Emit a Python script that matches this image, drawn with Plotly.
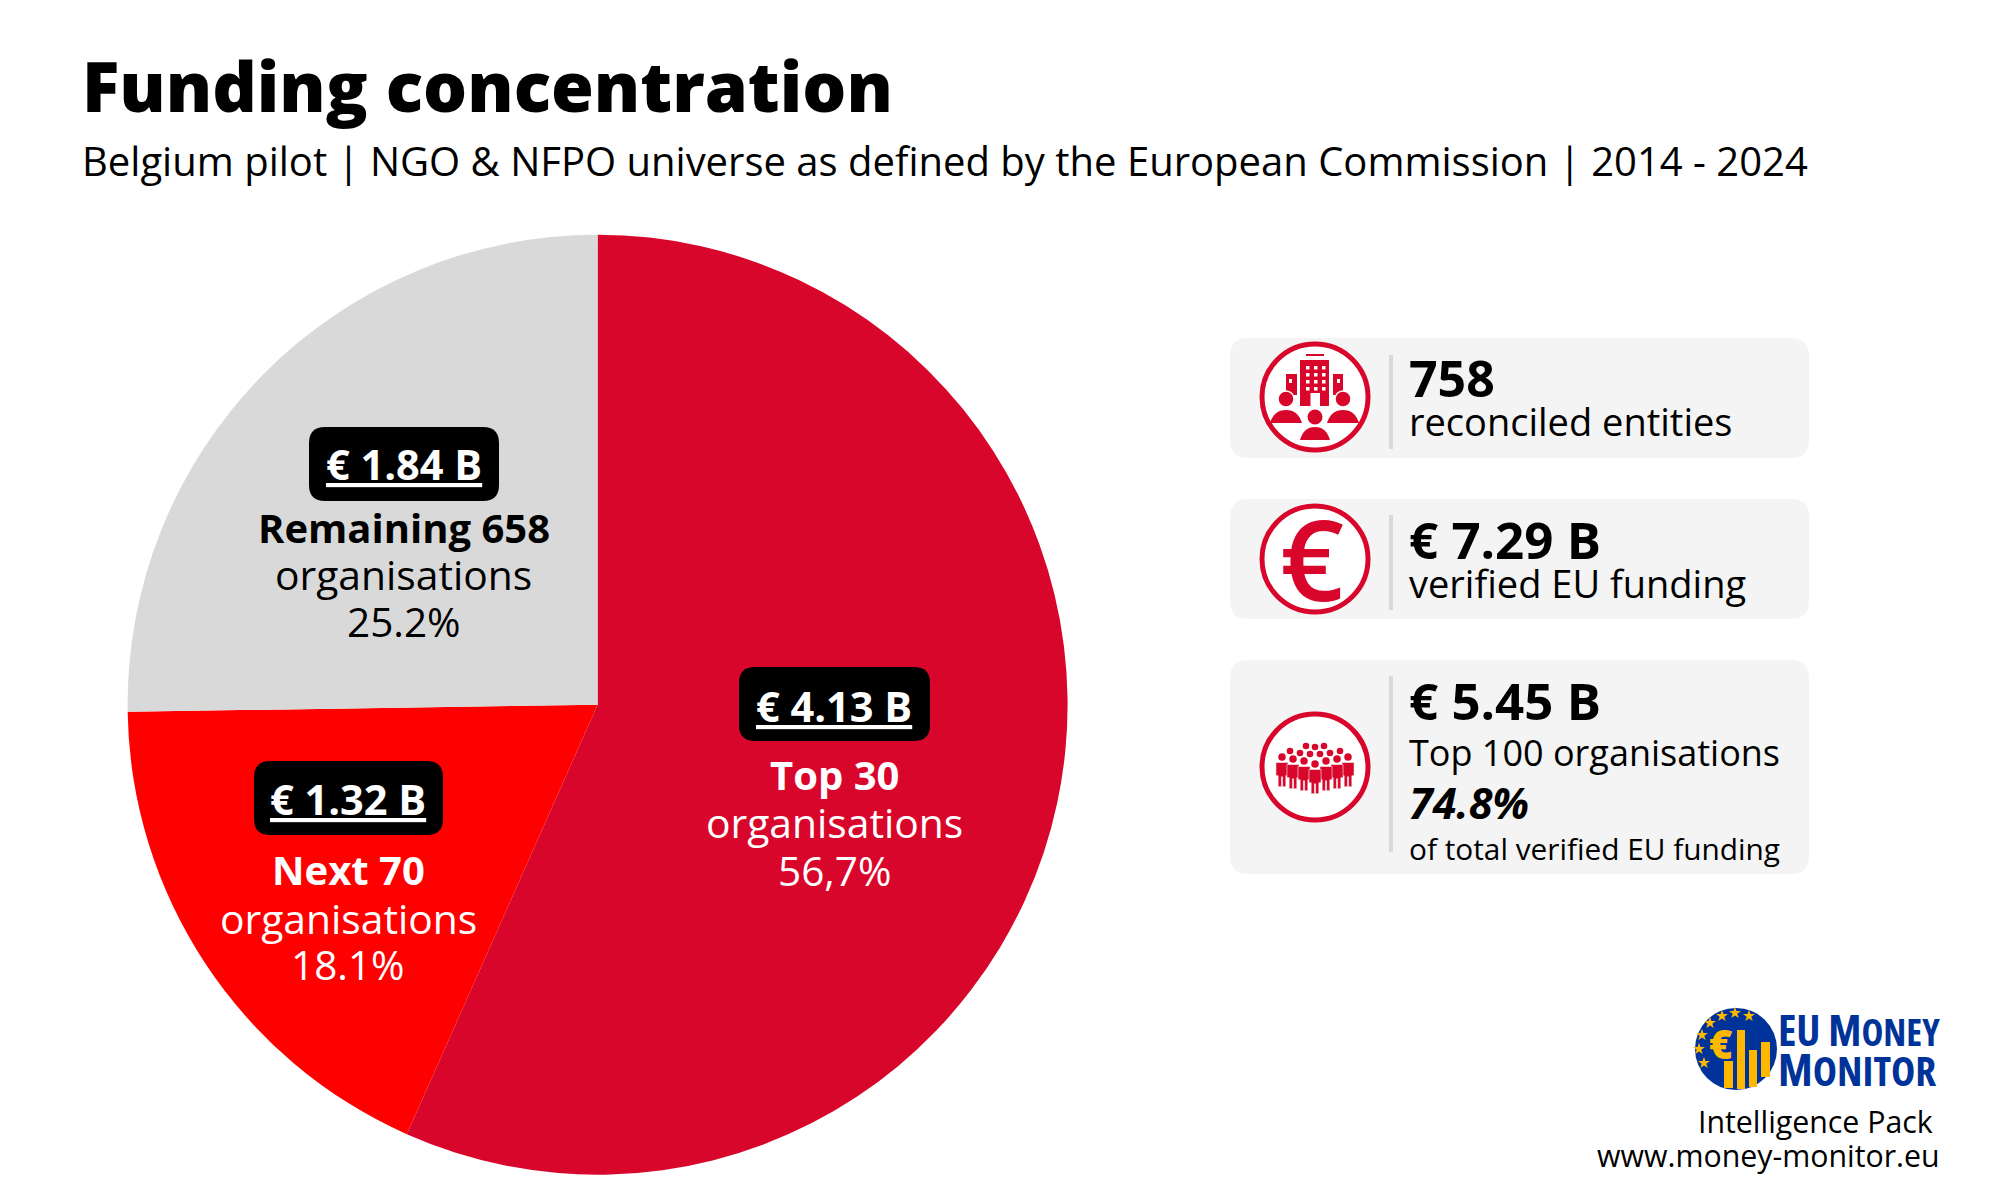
import plotly.graph_objects as go

# slices
groups = ["Top 30", "Next 70", "Remaining 658"]
funding = [4.13, 1.32, 1.84]
funding_labels = ["€ 1.84 B", "€ 1.32 B", "€ 4.13 B"]
share_labels = ["25.2%", "18.1%", "56,7%"]
group_labels = ["Remaining 658", "Next 70", "Top 30"]

title = "Funding concentration"
subtitle = "Belgium pilot | NGO & NFPO universe as defined by the European Commission | 2014 - 2024"

RED = "#D9062B"
BRIGHT = "#FF0000"
GREY = "#D9D9D9"
CARD = "#F4F4F4"
BLUE = "#003399"
GOLD = "#FFB800"
FONT = "Open Sans"

shapes = []
notes = []


def text(x, y, s, size, color="black", anchor="left", weight=400, family=FONT):
    notes.append(
        dict(
            x=x, y=y, xref="x", yref="y", text=s, showarrow=False,
            xanchor=anchor, yanchor="middle", align=anchor,
            font=dict(family=family, size=size, color=color, weight=weight),
        )
    )


def rounded(x0, y0, x1, y1, r):
    return (
        f"M{x0+r},{y0} L{x1-r},{y0} Q{x1},{y0} {x1},{y0+r} L{x1},{y1-r} Q{x1},{y1} {x1-r},{y1} "
        f"L{x0+r},{y1} Q{x0},{y1} {x0},{y1-r} L{x0},{y0+r} Q{x0},{y0} {x0+r},{y0} Z"
    )


def path(d, fill, line=None, width=0):
    shapes.append(
        dict(type="path", path=d, xref="x", yref="y", fillcolor=fill, line=dict(color=line or fill, width=width))
    )


def rect(x0, y0, x1, y1, fill):
    shapes.append(
        dict(type="rect", x0=x0, y0=y0, x1=x1, y1=y1, xref="x", yref="y", fillcolor=fill, line=dict(width=0))
    )


def circle(cx, cy, r, fill, line=None, width=0, layer="above"):
    shapes.append(
        dict(
            type="circle", x0=cx - r, y0=cy - r, x1=cx + r, y1=cy + r, xref="x", yref="y",
            fillcolor=fill, line=dict(color=line or fill, width=width), layer=layer,
        )
    )


def dome(cx, top, half, bottom, fill):
    # rounded shoulders of a seated figure
    path(f"M{cx-half},{bottom} Q{cx-half*0.75},{top} {cx},{top} Q{cx+half*0.75},{top} {cx+half},{bottom} Z", fill)


def person(cx, top, scale=1.0):
    # small standing figure with a gap between the legs
    s = scale
    circle(cx, top, 3.4 * s, RED)
    path(
        f"M{cx-5.5*s},{top+5*s} L{cx+5.5*s},{top+5*s} L{cx+5.5*s},{top+17*s} L{cx+3.5*s},{top+17*s} "
        f"L{cx+3.5*s},{top+27*s} L{cx+0.5*s},{top+27*s} L{cx+0.5*s},{top+18*s} L{cx-0.5*s},{top+18*s} "
        f"L{cx-0.5*s},{top+27*s} L{cx-3.5*s},{top+27*s} L{cx-3.5*s},{top+17*s} L{cx-5.5*s},{top+17*s} Z",
        RED, CARD, 0.6,
    )


# pie labels
pills = [(309, 427, 499, 501), (254, 761, 443, 835), (739, 667, 930, 741)]
label_x = [403.5, 348, 834]
label_y = [(464, 527, 574, 621), (798.5, 869, 917.5, 964), (705.5, 774, 822, 870)]
label_colors = ["black", "white", "white"]

for i in range(3):
    x0, y0, x1, y1 = pills[i]
    path(rounded(x0, y0, x1, y1, 16), "black")
    ys = label_y[i]
    text(label_x[i], ys[0], f"<u>{funding_labels[i]}</u>", 41.5, "white", "center", 700)
    text(label_x[i], ys[1], group_labels[i], 40, label_colors[i], "center", 700)
    text(label_x[i], ys[2], "organisations", 40.8, label_colors[i], "center")
    text(label_x[i], ys[3], share_labels[i], 40.5, label_colors[i], "center")

# header
text(80, 85, title, 69.3, "black", "left", 800)
text(80, 160.5, subtitle, 40)

# cards
cards = [(338, 458, 355, 449), (499, 619, 515, 610), (660, 874, 676, 852)]
for y0, y1, d0, d1 in cards:
    path(rounded(1230, y0, 1809, y1, 18), CARD)
    rect(1389, d0, 1393, d1, GREY)

ICON_X = 1315
icon_y = [397, 559, 767]
for cy in icon_y:
    circle(ICON_X, cy, 53, "white", RED, 5)

# building and people icon
cy = icon_y[0]
rect(ICON_X - 9, cy - 43, ICON_X + 9, cy - 41, RED)
rect(ICON_X - 15, cy - 37, ICON_X + 14, cy + 9, RED)
rect(ICON_X - 29, cy - 23, ICON_X - 18, cy - 2, RED)
rect(ICON_X + 18, cy - 23, ICON_X + 28, cy - 2, RED)
for col in (-9, -1, 7):
    for row in (-31, -24, -17, -10):
        rect(ICON_X + col, cy + row, ICON_X + col + 3.5, cy + row + 3.5, "white")
rect(ICON_X - 4.5, cy - 4, ICON_X + 5, cy + 9, "white")
rect(ICON_X - 26, cy - 18, ICON_X - 23, cy - 14, "white")
rect(ICON_X + 22, cy - 18, ICON_X + 25, cy - 14, "white")
circle(ICON_X - 29, cy + 2, 8, RED, "white", 1.5)
circle(ICON_X + 28, cy + 2, 8, RED, "white", 1.5)
circle(ICON_X, cy + 20, 7.5, RED)
dome(ICON_X - 29, cy + 13, 16, cy + 26, RED)
dome(ICON_X + 28, cy + 13, 16, cy + 26, RED)
dome(ICON_X, cy + 30, 15, cy + 43, RED)

# euro icon
text(ICON_X - 3, icon_y[1] - 2, "€", 112, RED, "center", 600)

# crowd icon
cy = icon_y[2]
for dx, dy in [(-9, -21), (0, -20), (9, -21)]:
    circle(ICON_X + dx, cy + dy, 3.3, RED)
for dx, dy in [(-25, -16), (-15, -14), (-5, -13), (5, -13), (15, -14), (25, -16)]:
    circle(ICON_X + dx, cy + dy, 3.3, RED)
for dx, dy in [(-33, -10), (33, -10), (-22, -8), (22, -8), (-11, -6), (11, -6), (0, -3)]:
    person(ICON_X + dx, cy + dy, 1.1)

# card text
TX = 1407
text(TX, 377.5, "758", 50, "black", "left", 700)
text(TX, 420.5, "reconciled entities", 38)
text(TX, 539, "€ 7.29 B", 51, "black", "left", 700)
text(TX, 583, "verified EU funding", 38)
text(TX, 700, "€ 5.45 B", 51, "black", "left", 700)
text(TX, 752, "Top 100 organisations", 36)
text(TX, 802, "<i>74.8%</i>", 43, "black", "left", 700)
text(TX, 848, "of total verified EU funding", 29.8)

# logo
LX, LY = 1736, 1049
circle(LX, LY, 41, BLUE, layer="below")
rect(1724, 1061, 1733, 1088, GOLD)
rect(1737, 1030, 1745, 1089, GOLD)
rect(1749, 1050, 1757, 1087, GOLD)
rect(1761, 1042, 1770, 1077, GOLD)
text(1721, 1043, "€", 40, GOLD, "center", 800)
text(
    1776, 1029,
    '<span style="font-stretch:75%">EU M<span style="font-size:37px">ONEY</span></span>',
    43, BLUE, "left", 700,
)
text(
    1776, 1068,
    '<span style="font-stretch:75%">M<span style="font-size:41px">ONITOR</span></span>',
    45, BLUE, "left", 700,
)
text(1935, 1121.5, "Intelligence Pack", 30.3, "black", "right")
text(1942, 1155.5, "www.money-monitor.eu", 30.3, "black", "right")

star_x = [1735, 1722, 1749, 1710, 1702, 1699, 1704]
star_y = [1013, 1016, 1016, 1023, 1035, 1049, 1063]

fig = go.Figure()
fig.add_trace(
    go.Pie(
        labels=groups,
        values=funding,
        sort=False,
        direction="clockwise",
        rotation=0,
        textinfo="none",
        hoverinfo="label+value",
        marker=dict(colors=[RED, BRIGHT, GREY], line=dict(width=0)),
        domain=dict(x=[127.6 / 2000, 1067.6 / 2000], y=[1 - 1174.7 / 1200, 1 - 234.7 / 1200]),
        showlegend=False,
    )
)
fig.add_trace(
    go.Scatter(
        x=star_x, y=star_y, mode="markers", hoverinfo="skip", showlegend=False,
        marker=dict(symbol="star", size=9, color=GOLD),
    )
)
fig.update_layout(
    width=2000,
    height=1200,
    margin=dict(l=0, r=0, t=0, b=0),
    paper_bgcolor="white",
    plot_bgcolor="rgba(0,0,0,0)",
    shapes=shapes,
    annotations=notes,
    xaxis=dict(range=[0, 2000], visible=False, fixedrange=True),
    yaxis=dict(range=[1200, 0], visible=False, fixedrange=True),
)
# page default margin would push the figure off the window
fig.write_html(
    "out.html",
    config={"displayModeBar": False},
    post_script="document.body.style.margin='0';",
)
